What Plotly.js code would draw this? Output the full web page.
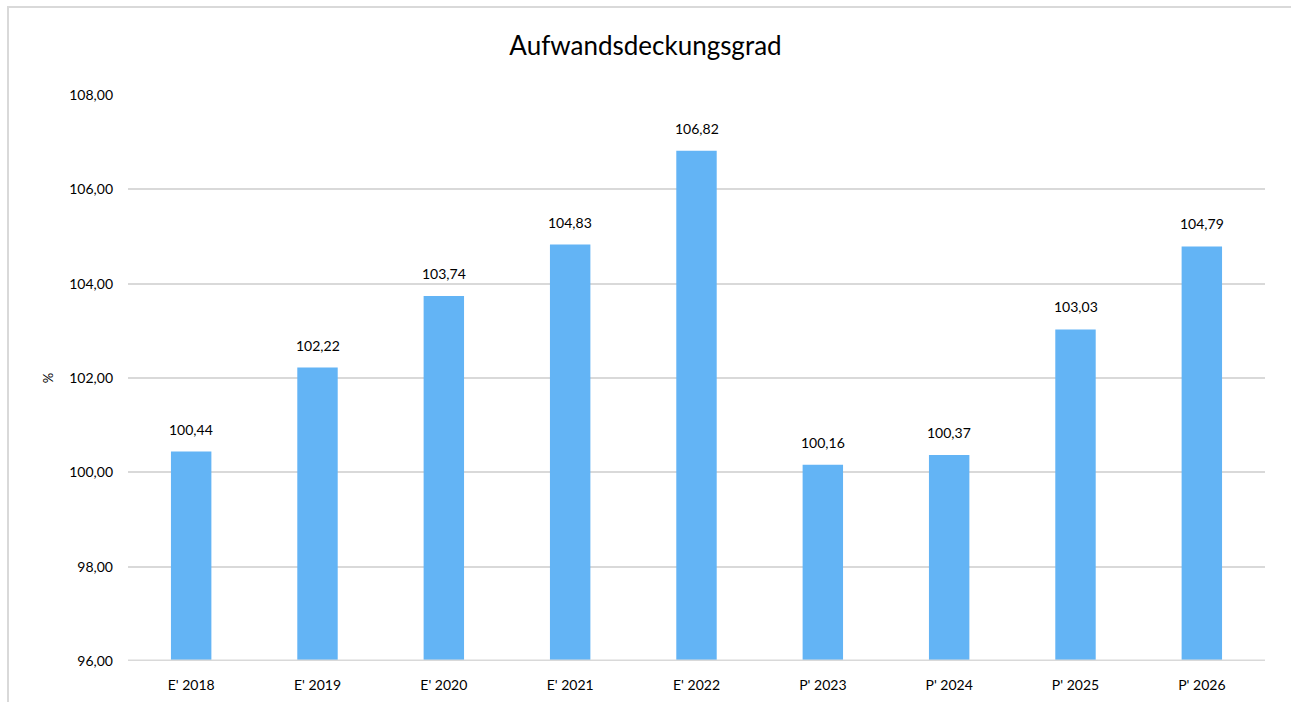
<!DOCTYPE html>
<html>
<head>
<meta charset="utf-8">
<script src="https://cdn.plot.ly/plotly-3.0.1.min.js"></script>
<style>
  html, body { margin:0; padding:0; background:#fff; overflow:hidden; }
  #frame { position:absolute; left:7px; top:6px; width:1400px; height:800px; border-left:2px solid #d9d9d9; border-top:2px solid #d9d9d9; }
  #chart { position:absolute; left:0; top:0; width:1291px; height:702px; }
</style>
</head>
<body>
<div id="frame"></div>
<div id="chart"></div>
<script>
const categories = ["E' 2018","E' 2019","E' 2020","E' 2021","E' 2022","P' 2023","P' 2024","P' 2025","P' 2026"];
const values = [100.44, 102.22, 103.74, 104.83, 106.82, 100.16, 100.37, 103.03, 104.79];
const tickVals = [96, 98, 100, 102, 104, 106, 108];

const fmt = v => v.toFixed(2).replace('.', ',');
const font = 'Lato, "Open Sans", sans-serif';

Plotly.newPlot('chart', [{
  x: categories,
  y: values,
  type: 'bar',
  marker: {color: '#63b4f5'},
  hoverinfo: 'none'
}], {
  width: 1291,
  height: 702,
  paper_bgcolor: 'rgba(0,0,0,0)',
  plot_bgcolor: 'rgba(0,0,0,0)',
  separators: ',.',
  font: {family: font, size: 14, color: '#000'},
  margin: {l: 128, r: 26, t: 95, b: 41},
  bargap: 0.68,
  showlegend: false,
  title: {text: 'Aufwandsdeckungsgrad', x: 0.5, xanchor: 'center', y: 0.935, yanchor: 'middle', font: {family: font, size: 26, color: '#000'}},
  xaxis: {showgrid: false, zeroline: false, showline: false, ticks: '', ticklabelstandoff: 14, tickfont: {size: 14}, fixedrange: true},
  yaxis: {
    range: [96, 108], tickvals: tickVals, tickformat: '.2f', ticks: '', ticklabelstandoff: 14,
    gridcolor: '#d9d9d9', gridwidth: 2, zeroline: false,
    showline: false, fixedrange: true,
    title: {text: '%', standoff: 12, font: {size: 13}}
  },
  shapes: [{type: 'line', xref: 'paper', yref: 'y', x0: 0, x1: 1, y0: 96, y1: 96, line: {color: '#d9d9d9', width: 3}}],
  annotations: categories.map((c, i) => ({
    x: c, y: values[i], text: fmt(values[i]), showarrow: false,
    yanchor: 'bottom', yshift: 12, font: {family: font, size: 14, color: '#000'}
  }))
}, {displayModeBar: false, staticPlot: true});
</script>
</body>
</html>
